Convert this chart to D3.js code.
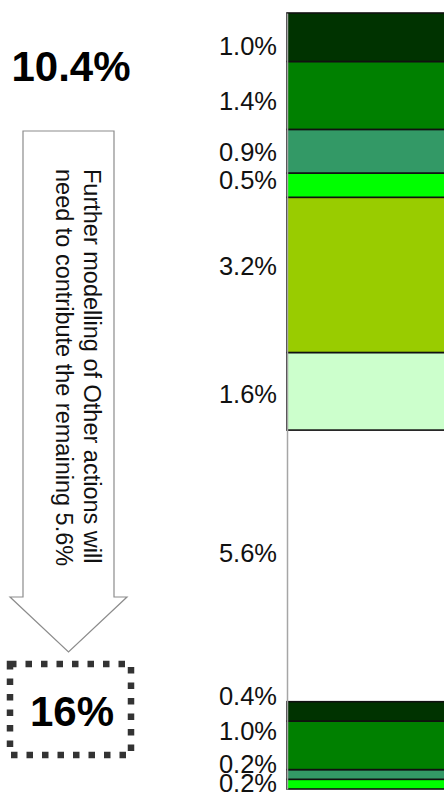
<!DOCTYPE html>
<html>
<head>
<meta charset="utf-8">
<script src="https://cdn.jsdelivr.net/npm/d3@7/dist/d3.min.js"></script>
<style>
  html, body { margin: 0; padding: 0; background: #fff; }
  svg { display: block; font-family: "Liberation Sans", Arial, sans-serif; }
</style>
</head>
<body>
<script>
// Stacked contribution bar, listed from the bottom of the stack upwards (percent)
const segments = ["s1", "s2", "s3", "s4", "remaining", "s5", "s6", "s7", "s8", "s9", "s10"];
const values   = [0.2, 0.2, 1.0, 0.4, 5.6, 1.6, 3.2, 0.5, 0.9, 1.4, 1.0];
const labels   = ["0.2%", "0.2%", "1.0%", "0.4%", "5.6%", "1.6%", "3.2%", "0.5%", "0.9%", "1.4%", "1.0%"];
const modelledTotal = "10.4%";
const targetTotal = "16%";
const arrowLines = ["Further modelling of Other actions will", "need to contribute the remaining 5.6%"];

// Fill per segment; the remaining share is left unfilled
const palette = ["#00ff00", "#339966", "#008000", "#003300", "none", "#ccffcc", "#99cc00", "#00ff00", "#339966", "#008000", "#003300"];
// Small vertical nudges (px) for the value labels
const labelNudge = [8, -1, -5, -6, -4, 12, 0, 4, 10, 14.5, 18];

const W = 444, H = 792;
const svg = d3.select("body").append("svg").attr("width", W).attr("height", H);

// Stack the values
let acc = 0;
const stacked = values.map((v, i) => {
  const d = { key: segments[i], value: v, y0: acc, y1: acc + v, label: labels[i], i };
  acc += v;
  return d;
});

const y = d3.scaleLinear().domain([0, acc]).range([789, 13]);
const x = d3.scaleBand().domain(["bar"]).range([287, 640]).padding(0);

// Segments
svg.append("g").selectAll("rect")
  .data(stacked.filter(d => palette[d.i] !== "none"))
  .join("rect")
  .attr("x", x("bar"))
  .attr("width", x.bandwidth())
  .attr("y", d => y(d.y1))
  .attr("height", d => y(d.y0) - y(d.y1))
  .attr("fill", d => palette[d.i])
  .attr("stroke", "#111")
  .attr("stroke-width", 1.6);

// Value axis line
const axis = d3.axisLeft(y).tickValues([]).tickSizeOuter(0);
svg.append("g")
  .attr("transform", `translate(${x("bar")},0)`)
  .call(axis)
  .call(g => g.select(".domain").attr("stroke", "#a6a6a6").attr("stroke-width", 1.5));

// Value labels
svg.append("g").selectAll("text")
  .data(stacked)
  .join("text")
  .attr("x", 277)
  .attr("y", d => y((d.y0 + d.y1) / 2) + labelNudge[d.i])
  .attr("text-anchor", "end")
  .attr("font-size", 25.5)
  .attr("fill", "#111")
  .text(d => d.label);

// Modelled total
svg.append("text")
  .attr("x", 71).attr("y", 81)
  .attr("text-anchor", "middle")
  .attr("font-size", 42).attr("font-weight", "bold")
  .attr("fill", "#000")
  .text(modelledTotal);

// Down arrow
const arrow = d3.path();
arrow.moveTo(23, 131);
arrow.lineTo(114, 131);
arrow.lineTo(114, 597);
arrow.lineTo(127, 597);
arrow.lineTo(68.5, 652);
arrow.lineTo(10, 597);
arrow.lineTo(23, 597);
arrow.closePath();
svg.append("path")
  .attr("d", arrow.toString())
  .attr("fill", "#fff")
  .attr("stroke", "#8c8c8c")
  .attr("stroke-width", 1.2);

const arrowText = svg.append("g");
arrowLines.forEach((line, k) => {
  arrowText.append("text")
    .attr("transform", `translate(${84 - k * 28},169) rotate(90)`)
    .attr("font-size", 23.5)
    .attr("fill", "#111")
    .text(line);
});

// Target total in a dotted box
svg.append("rect")
  .attr("x", 10).attr("y", 664)
  .attr("width", 121).attr("height", 91)
  .attr("fill", "none")
  .attr("stroke", "#333")
  .attr("stroke-width", 6.5)
  .attr("stroke-dasharray", "6.5 9");

svg.append("text")
  .attr("x", 72).attr("y", 726)
  .attr("text-anchor", "middle")
  .attr("font-size", 42).attr("font-weight", "bold")
  .attr("fill", "#000")
  .text(targetTotal);
</script>
</body>
</html>
